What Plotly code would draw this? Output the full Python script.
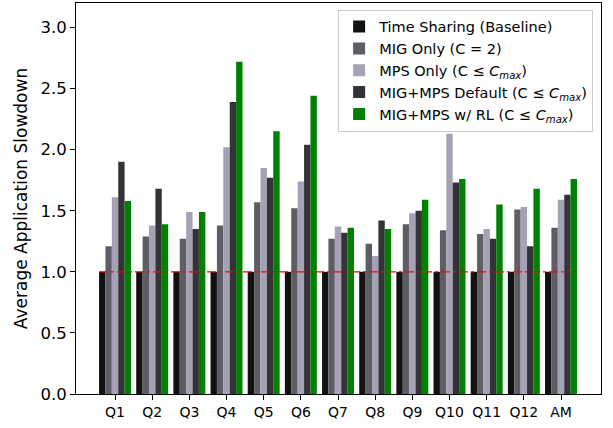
import plotly.graph_objects as go

categories = ["Q1", "Q2", "Q3", "Q4", "Q5", "Q6", "Q7", "Q8", "Q9", "Q10", "Q11", "Q12", "AM"]
time_sharing = [1.0] * 13
mig_only = [1.21, 1.29, 1.27, 1.38, 1.57, 1.52, 1.27, 1.23, 1.39, 1.34, 1.31, 1.51, 1.36]
mps_only = [1.61, 1.38, 1.49, 2.02, 1.85, 1.74, 1.37, 1.13, 1.48, 2.13, 1.35, 1.53, 1.59]
mig_mps_default = [1.90, 1.68, 1.35, 2.39, 1.77, 2.04, 1.32, 1.42, 1.50, 1.73, 1.27, 1.21, 1.63]
mig_mps_rl = [1.58, 1.39, 1.49, 2.72, 2.15, 2.44, 1.36, 1.35, 1.59, 1.76, 1.55, 1.68, 1.76]

series = [
    ("Time Sharing (Baseline)", time_sharing, "#111111"),
    ("MIG Only (C = 2)", mig_only, "#5e5d64"),
    ("MPS Only (C ≤ <i>C</i><sub><i>max</i></sub>)", mps_only, "#a4a2b4"),
    ("MIG+MPS Default (C ≤ <i>C</i><sub><i>max</i></sub>)", mig_mps_default, "#343338"),
    ("MIG+MPS w/ RL (C ≤ <i>C</i><sub><i>max</i></sub>)", mig_mps_rl, "#008000"),
]

x = list(range(len(categories)))
fig = go.Figure()
for name, vals, color in series:
    fig.add_trace(go.Bar(x=x, y=vals, name=name, marker=dict(color=color, line=dict(width=0))))

fig.add_shape(type="line", xref="x", yref="y", x0=-0.43, x1=12.24, y0=1.0, y1=1.0,
              line=dict(color="red", width=1.3, dash="dashdot"))

font_family = "DejaVu Sans"
fig.update_layout(
    width=613, height=428,
    margin=dict(l=76, r=12, t=3, b=34),
    paper_bgcolor="white", plot_bgcolor="white",
    barmode="group", bargap=0.14, bargroupgap=0,
    font=dict(family=font_family, size=14, color="black"),
    showlegend=True,
    legend=dict(x=0.985, y=0.983, xanchor="right", yanchor="top",
                bgcolor="rgba(255,255,255,0.8)", bordercolor="#cccccc", borderwidth=1,
                font=dict(family=font_family, size=14.5), traceorder="normal"),
    xaxis=dict(tickmode="array", tickvals=x, ticktext=categories,
               range=[-1.05, 13.076], showline=True, linecolor="black", linewidth=1,
               mirror=True, ticks="outside", ticklen=5, tickcolor="black",
               showgrid=False, zeroline=False, tickfont=dict(size=14)),
    yaxis=dict(range=[0, 3.2], tickvals=[0, 0.5, 1.0, 1.5, 2.0, 2.5, 3.0], tickformat=".1f",
               showline=True, linecolor="black", linewidth=1, mirror=True,
               ticks="outside", ticklen=5, tickcolor="black", showgrid=False, zeroline=False,
               title=dict(text="Average Application Slowdown", font=dict(size=17), standoff=8),
               tickfont=dict(size=16.5)),
)

fig.write_html("out.html", config={"displayModeBar": False},
               post_script="document.body.style.margin='0';")
